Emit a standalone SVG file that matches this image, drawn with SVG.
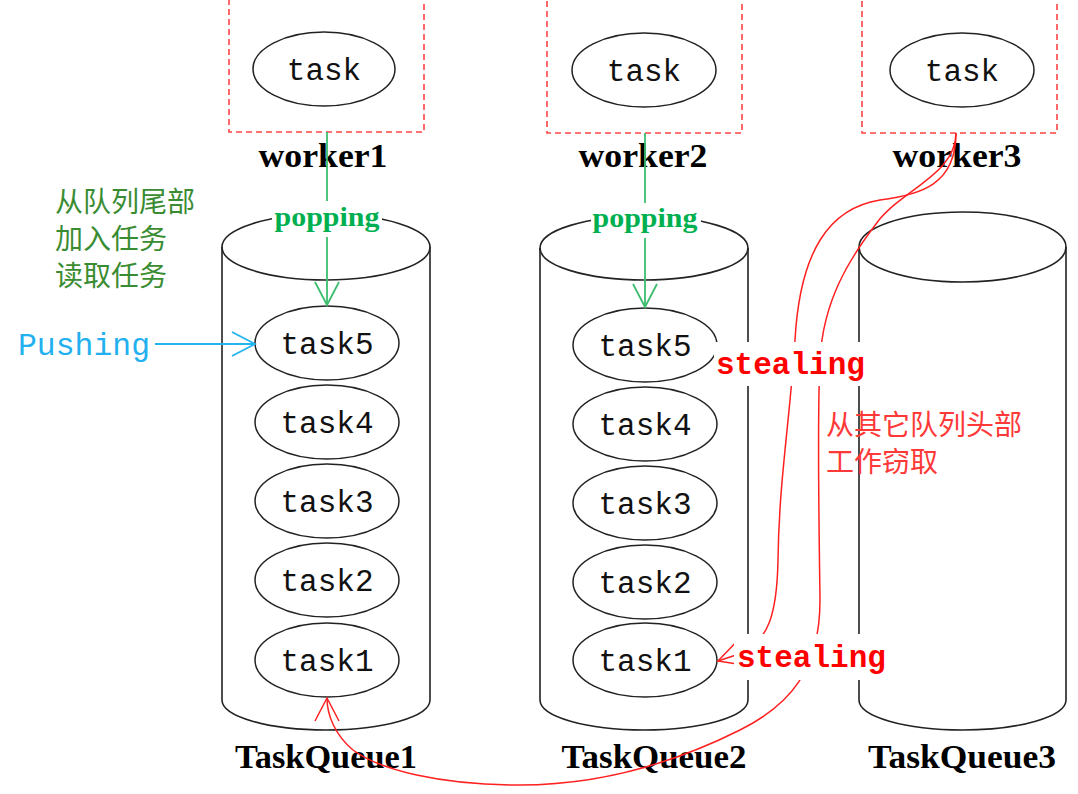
<svg xmlns="http://www.w3.org/2000/svg" width="1078" height="794" viewBox="0 0 1078 794">
<style>
.bg{fill:#fff}
.worker{fill:none;stroke:#ff4444;stroke-width:1.6;stroke-dasharray:6 4}
.ell{fill:#fff;stroke:#222;stroke-width:1.5}
.cyl{fill:none;stroke:#222;stroke-width:1.6}
.task{font-family:"Liberation Mono","DejaVu Sans Mono",monospace;font-size:31px;fill:#111;text-anchor:middle}
.wlabel{font-family:"Liberation Serif","DejaVu Serif",serif;font-weight:bold;font-size:33px;fill:#000;text-anchor:middle}
.qlabel{font-family:"Liberation Serif","DejaVu Serif",serif;font-weight:bold;font-size:34px;fill:#000;text-anchor:middle}
.pop{font-family:"Liberation Serif","DejaVu Serif",serif;font-weight:bold;font-size:28px;fill:#00b050;text-anchor:middle}
.steal{font-family:"Liberation Mono","DejaVu Sans Mono",monospace;font-weight:bold;font-size:31px;fill:#ff0000}
.push{font-family:"Liberation Mono","DejaVu Sans Mono",monospace;font-size:31px;fill:#22b0ee}
.cn{font-family:"Noto Sans CJK SC","Noto Sans",sans-serif;font-size:28px}
.green{stroke:#3dbd6e;stroke-width:1.8;fill:none}
.red{stroke:#ff2020;stroke-width:1.5;fill:none}
.cyan{stroke:#22b4ee;stroke-width:1.8;fill:none}
</style>
<defs>
<marker id="ag" viewBox="0 0 26 26" refX="24" refY="13" markerWidth="26" markerHeight="26" markerUnits="userSpaceOnUse" orient="auto"><path d="M1,1 L24,13 L1,25" fill="none" stroke="#3dbd6e" stroke-width="1.8"/></marker>
<marker id="ac" viewBox="0 0 26 26" refX="24" refY="13" markerWidth="26" markerHeight="26" markerUnits="userSpaceOnUse" orient="auto"><path d="M1,1 L24,13 L1,25" fill="none" stroke="#22b4ee" stroke-width="1.8"/></marker>
<marker id="ar" viewBox="0 0 26 26" refX="24" refY="13" markerWidth="26" markerHeight="26" markerUnits="userSpaceOnUse" orient="auto"><path d="M1,1 L24,13 L1,25" fill="none" stroke="#ff2020" stroke-width="1.5"/></marker>
</defs>
<rect class="bg" x="0" y="0" width="1078" height="794"/>

<g id="worker1">
<rect class="worker" x="229" y="-1" width="195" height="133"/>
<ellipse class="ell" cx="324" cy="69" rx="71" ry="37"/>
<text class="task" x="324" y="80">task</text>
<text class="wlabel" x="323" y="167" textLength="129" lengthAdjust="spacingAndGlyphs">worker1</text>
</g>
<g id="worker2">
<rect class="worker" x="547" y="-1" width="195" height="134"/>
<ellipse class="ell" cx="644" cy="70" rx="72" ry="37"/>
<text class="task" x="644" y="81">task</text>
<text class="wlabel" x="643" y="167" textLength="129" lengthAdjust="spacingAndGlyphs">worker2</text>
</g>
<g id="worker3">
<rect class="worker" x="862" y="-1" width="195" height="134"/>
<ellipse class="ell" cx="962" cy="70" rx="72" ry="37"/>
<text class="task" x="962" y="81">task</text>
<text class="wlabel" x="957" y="167" textLength="129" lengthAdjust="spacingAndGlyphs">worker3</text>
</g>

<g id="TaskQueue1">
<path class="cyl" d="M222,247 L222,700 A104,30 0 0 0 430,700 L430,247"/>
<ellipse class="cyl" cx="326" cy="247" rx="104" ry="33"/>
<text class="qlabel" x="326" y="768" textLength="182" lengthAdjust="spacingAndGlyphs">TaskQueue1</text>
</g>
<g id="TaskQueue2">
<path class="cyl" d="M540,248 L540,700 A104,30 0 0 0 748,700 L748,248"/>
<ellipse class="cyl" cx="644" cy="248" rx="104" ry="32"/>
<text class="qlabel" x="654" y="768" textLength="185" lengthAdjust="spacingAndGlyphs">TaskQueue2</text>
</g>
<g id="TaskQueue3">
<path class="cyl" d="M859,247 L859,700 A103.5,30 0 0 0 1066,700 L1066,247"/>
<ellipse class="cyl" cx="962.5" cy="247" rx="103.5" ry="35"/>
<text class="qlabel" x="962" y="768" textLength="188" lengthAdjust="spacingAndGlyphs">TaskQueue3</text>
</g>

<g id="q1-task5"><ellipse class="ell" cx="327" cy="343" rx="72" ry="37"/><text class="task" x="327" y="354">task5</text></g>
<g id="q1-task4"><ellipse class="ell" cx="327" cy="422" rx="72" ry="37"/><text class="task" x="327" y="433">task4</text></g>
<g id="q1-task3"><ellipse class="ell" cx="327" cy="501" rx="72" ry="37"/><text class="task" x="327" y="512">task3</text></g>
<g id="q1-task2"><ellipse class="ell" cx="327" cy="580" rx="72" ry="37"/><text class="task" x="327" y="591">task2</text></g>
<g id="q1-task1"><ellipse class="ell" cx="327" cy="660" rx="72" ry="37"/><text class="task" x="327" y="671">task1</text></g>

<g id="q2-task5"><ellipse class="ell" cx="645" cy="345" rx="72" ry="37"/><text class="task" x="645" y="356">task5</text></g>
<g id="q2-task4"><ellipse class="ell" cx="645" cy="424" rx="72" ry="37"/><text class="task" x="645" y="435">task4</text></g>
<g id="q2-task3"><ellipse class="ell" cx="645" cy="503" rx="72" ry="37"/><text class="task" x="645" y="514">task3</text></g>
<g id="q2-task2"><ellipse class="ell" cx="645" cy="582" rx="72" ry="37"/><text class="task" x="645" y="593">task2</text></g>
<g id="q2-task1"><ellipse class="ell" cx="645" cy="660" rx="72" ry="37"/><text class="task" x="645" y="671">task1</text></g>

<g id="connectors">
<path class="green" d="M327,132 L327,305" marker-end="url(#ag)"/>
<path class="green" d="M645,133 L645,307" marker-end="url(#ag)"/>
<path class="cyan" d="M155,344 L255,344" marker-end="url(#ac)"/>
<path class="red" d="M956,133 C956,185 920,195 880,200 C830,208 800,250 795,340 C790,420 779,480 778,560 C777,615 768,640 742,653 L718,661" marker-end="url(#ar)"/>
<path class="red" d="M956,133 C956,175 900,190 876,224 C850,258 823,300 820,360 C817,420 819,520 820,600 C820,670 790,705 740,730 C700,750 620,785 520,785 C440,785 380,770 353,750 C335,735 327,715 327,698" marker-end="url(#ar)"/>
</g>

<g id="labels">
<rect class="bg" x="272" y="201" width="110" height="36"/>
<text class="pop" x="327" y="226" textLength="105" lengthAdjust="spacingAndGlyphs">popping</text>
<rect class="bg" x="591" y="203" width="110" height="35"/>
<text class="pop" x="645" y="227" textLength="105" lengthAdjust="spacingAndGlyphs">popping</text>
<text class="push" x="18" y="355" textLength="132" lengthAdjust="spacingAndGlyphs">Pushing</text>
<rect class="bg" x="714" y="342" width="154" height="44"/>
<text class="steal" x="716" y="374" textLength="149" lengthAdjust="spacingAndGlyphs">stealing</text>
<rect class="bg" x="734" y="634" width="155" height="46"/>
<text class="steal" x="737" y="667" textLength="149" lengthAdjust="spacingAndGlyphs">stealing</text>
<text class="cn" fill="#3a8c32"><tspan x="55" y="212">从队列尾部</tspan><tspan x="55" y="249">加入任务</tspan><tspan x="55" y="286">读取任务</tspan></text>
<text class="cn" fill="#ff3838"><tspan x="826" y="435">从其它队列头部</tspan><tspan x="826" y="472">工作窃取</tspan></text>
</g>
</svg>
